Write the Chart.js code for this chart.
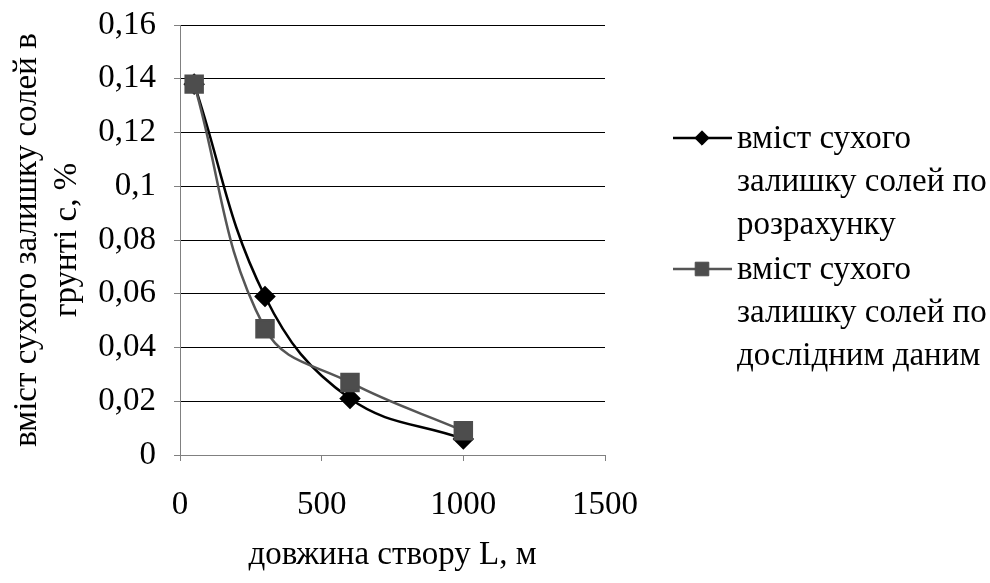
<!DOCTYPE html>
<html>
<head>
<meta charset="utf-8">
<script src="https://cdn.jsdelivr.net/npm/chart.js@4/dist/chart.umd.min.js"></script>
<style>
  html, body { margin: 0; padding: 0; background: #fff; }
  #wrap { width: 990px; height: 583px; }
</style>
</head>
<body>
<div id="wrap"><canvas id="myChart" width="990" height="583"></canvas></div>
<script>
// data
const lengths = [50, 300, 600, 1000];
const calcValues = [0.138, 0.059, 0.021, 0.006];
const expValues = [0.138, 0.047, 0.027, 0.009];
const calcLabel = ['вміст сухого', 'залишку солей по', 'розрахунку'];
const expLabel = ['вміст сухого', 'залишку солей по', 'дослідним даним'];
const xTitle = 'довжина створу L, м';
const yTitle = ['вміст сухого залишку солей в', 'грунті с, %'];

const FONT = "'Liberation Serif', serif";
const SIZE = 33;

const toPoints = (xs, ys) => xs.map((x, i) => ({ x: x, y: ys[i] }));

// legend drawn by hand so the labels can wrap on several lines
const sideLegend = {
  id: 'sideLegend',
  afterDraw: function (chart) {
    const ctx = chart.ctx;
    const items = [
      { ds: chart.data.datasets[0], lines: calcLabel, y: 138 },
      { ds: chart.data.datasets[1], lines: expLabel, y: 269 }
    ];
    ctx.save();
    ctx.font = SIZE + 'px ' + FONT;
    ctx.textBaseline = 'middle';
    items.forEach(function (it) {
      ctx.strokeStyle = it.ds.borderColor;
      ctx.lineWidth = it.ds.borderWidth;
      ctx.beginPath();
      ctx.moveTo(673, it.y);
      ctx.lineTo(732, it.y);
      ctx.stroke();
      ctx.fillStyle = it.ds.pointBackgroundColor;
      ctx.strokeStyle = it.ds.pointBorderColor;
      ctx.lineWidth = 1;
      Chart.helpers.drawPoint(ctx, {
        pointStyle: it.ds.pointStyle,
        radius: it.ds.pointRadius * 0.8,
        rotation: 0,
        borderWidth: 1
      }, 702, it.y);
      ctx.fillStyle = '#000';
      it.lines.forEach(function (t, i) {
        ctx.fillText(t, 737, it.y + 1 + i * 43);
      });
    });
    ctx.restore();
  }
};

function draw() {
  const ctx = document.getElementById('myChart');
  new Chart(ctx, {
    type: 'scatter',
    data: {
      datasets: [
        {
          label: calcLabel.join(' '),
          data: toPoints(lengths, calcValues),
          showLine: true,
          borderColor: '#000',
          backgroundColor: '#000',
          pointBackgroundColor: '#000',
          pointBorderColor: '#000',
          borderWidth: 2.5,
          pointStyle: 'rectRot',
          pointRadius: 9,
          tension: 0.4,
          order: 2
        },
        {
          label: expLabel.join(' '),
          data: toPoints(lengths, expValues),
          showLine: true,
          borderColor: '#555555',
          backgroundColor: '#4d4d4d',
          pointBackgroundColor: '#4d4d4d',
          pointBorderColor: '#4d4d4d',
          borderWidth: 2.5,
          pointStyle: 'rect',
          pointRadius: 12,
          tension: 0.4,
          order: 1
        }
      ]
    },
    options: {
      responsive: false,
      animation: false,
      layout: { padding: { top: 25, right: 385, left: 0, bottom: 0 } },
      plugins: {
        legend: { display: false },
        tooltip: { enabled: false }
      },
      scales: {
        x: {
          type: 'linear',
          min: 0,
          max: 1500,
          afterFit: function (s) { s.height = 128; s.paddingLeft = 0; s.paddingRight = 0; },
          border: { color: '#808080', width: 1 },
          grid: { drawOnChartArea: false, color: '#808080', tickLength: 6 },
          ticks: {
            stepSize: 500,
            padding: 25,
            color: '#000',
            font: { family: FONT, size: SIZE },
            callback: function (v) { return String(v); }
          },
          title: {
            display: true,
            text: xTitle,
            color: '#000',
            font: { family: FONT, size: SIZE },
            padding: { top: 0, bottom: 8 }
          }
        },
        y: {
          type: 'linear',
          min: 0,
          max: 0.16,
          afterFit: function (s) { s.width = 180; s.paddingTop = 0; s.paddingBottom = 0; },
          border: { color: '#808080', width: 1 },
          grid: { color: '#000', tickLength: 6, tickColor: '#808080' },
          ticks: {
            stepSize: 0.02,
            padding: 18,
            color: '#000',
            font: { family: FONT, size: SIZE },
            callback: function (v) {
              return String(Math.round(v * 100) / 100).replace('.', ',');
            }
          },
          title: {
            display: true,
            text: yTitle,
            color: '#000',
            font: { family: FONT, size: SIZE, lineHeight: 1.2 },
            padding: { top: 8, bottom: 0 }
          }
        }
      }
    },
    plugins: [sideLegend]
  });
}

if (document.fonts && document.fonts.load) {
  document.fonts.load(SIZE + "px 'Liberation Serif'", 'вміст 0,16').then(draw, draw);
} else {
  draw();
}
</script>
</body>
</html>
